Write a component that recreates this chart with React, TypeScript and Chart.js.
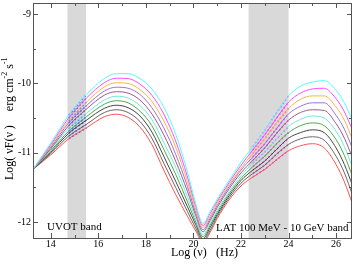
import React, { useEffect, useRef } from 'react';
import { Chart, registerables } from 'chart.js';
Chart.register(...registerables);

const logNu = [13.25, 14.0, 14.75, 15.5, 16.25, 16.75, 17.25, 17.75, 18.25, 18.75, 19.25, 19.75, 20.1, 20.4, 20.7, 21.0, 21.5, 22.0, 22.5, 23.0, 23.5, 24.0, 24.5, 25.0, 25.5, 26.0, 26.35, 26.7];

const curveCyan = [-11.24, -10.86, -10.46, -10.16, -9.93, -9.86, -9.86, -9.93, -10.08, -10.34, -10.73, -11.28, -11.74, -12.02, -11.85, -11.67, -11.40, -11.14, -10.91, -10.68, -10.42, -10.18, -10.04, -9.98, -9.96, -10.10, -10.28, -10.55];
const curveMagenta = [-11.24, -10.88, -10.50, -10.21, -9.99, -9.925, -9.93, -10.01, -10.17, -10.44, -10.83, -11.35, -11.78, -12.05, -11.88, -11.70, -11.43, -11.18, -10.96, -10.74, -10.50, -10.27, -10.14, -10.08, -10.07, -10.22, -10.41, -10.68];
const curveOrange = [-11.24, -10.90, -10.54, -10.27, -10.05, -9.99, -10.00, -10.09, -10.26, -10.54, -10.92, -11.42, -11.83, -12.08, -11.92, -11.73, -11.46, -11.22, -11.01, -10.80, -10.57, -10.36, -10.23, -10.18, -10.18, -10.34, -10.53, -10.82];
const curveViolet = [-11.24, -10.92, -10.57, -10.32, -10.11, -10.055, -10.07, -10.16, -10.35, -10.64, -11.02, -11.49, -11.87, -12.11, -11.95, -11.76, -11.49, -11.25, -11.06, -10.87, -10.65, -10.44, -10.33, -10.28, -10.28, -10.46, -10.66, -10.95];
const curveMaroon = [-11.24, -10.94, -10.61, -10.37, -10.17, -10.12, -10.14, -10.24, -10.44, -10.74, -11.12, -11.56, -11.91, -12.14, -11.98, -11.79, -11.52, -11.29, -11.11, -10.93, -10.72, -10.53, -10.42, -10.38, -10.39, -10.58, -10.79, -11.08];
const curveTurquoise = [-11.24, -10.95, -10.65, -10.43, -10.24, -10.185, -10.21, -10.32, -10.52, -10.85, -11.21, -11.64, -11.96, -12.18, -12.02, -11.83, -11.56, -11.33, -11.15, -10.99, -10.80, -10.62, -10.52, -10.47, -10.50, -10.69, -10.91, -11.22];
const curveGreen = [-11.24, -10.97, -10.69, -10.48, -10.30, -10.25, -10.28, -10.40, -10.61, -10.95, -11.31, -11.71, -12.00, -12.21, -12.05, -11.86, -11.59, -11.37, -11.20, -11.05, -10.87, -10.71, -10.61, -10.57, -10.61, -10.81, -11.04, -11.35];
const curveBlack = [-11.24, -10.99, -10.72, -10.53, -10.36, -10.315, -10.35, -10.47, -10.70, -11.05, -11.41, -11.78, -12.04, -12.24, -12.08, -11.89, -11.62, -11.40, -11.25, -11.12, -10.95, -10.79, -10.71, -10.67, -10.71, -10.93, -11.17, -11.48];
const curveGrey = [-11.24, -11.01, -10.76, -10.59, -10.42, -10.38, -10.42, -10.55, -10.79, -11.15, -11.50, -11.85, -12.09, -12.27, -12.12, -11.92, -11.65, -11.44, -11.30, -11.18, -11.02, -10.88, -10.80, -10.77, -10.82, -11.05, -11.29, -11.62];
const curveRed = [-11.24, -11.03, -10.80, -10.64, -10.48, -10.445, -10.49, -10.63, -10.88, -11.25, -11.60, -11.92, -12.13, -12.30, -12.15, -11.95, -11.68, -11.48, -11.35, -11.24, -11.10, -10.97, -10.90, -10.87, -10.93, -11.17, -11.42, -11.75];

const curves = [curveCyan, curveMagenta, curveOrange, curveViolet, curveMaroon, curveTurquoise, curveGreen, curveBlack, curveGrey, curveRed];
const curveColors = ['#4dffff', '#ff4dff', '#ffb340', '#a070dd', '#9a5a8a', '#70e8d8', '#4aaa4a', '#444444', '#666666', '#ff5050'];

const xMajorTicks = [14, 16, 18, 20, 22, 24, 26];
const xMinorTicks = [15, 17, 19, 21, 23, 25];
const yMajorTicks = [-12, -11, -10, -9];
const yMinorTicks = [-11.5, -10.5, -9.5];

const bandStart = [14.7, 22.32];
const bandEnd = [15.48, 24.0];
const bandLabels = ['UVOT band', 'LAT 100 MeV - 10 GeV band'];
const bandOverlayColors = ['#5060ff', '#ff30ff'];

const X_MIN = 13.25, X_MAX = 26.67, Y_MIN = -12.23, Y_MAX = -8.84;

const SERIF = '"Liberation Serif", "Times New Roman", serif';

const decor = {
  id: 'decor',
  beforeDatasetsDraw(chart: any) {
    const { ctx, chartArea: a, scales } = chart;
    const x = scales.x;
    ctx.save();
    ctx.fillStyle = '#d9d9d9';
    bandStart.forEach((s, i) => {
      const x0 = x.getPixelForValue(s);
      const x1 = x.getPixelForValue(bandEnd[i]);
      ctx.fillRect(x0, a.top, x1 - x0, a.bottom - a.top);
    });
    ctx.restore();
  },
  afterDatasetsDraw(chart: any) {
    const { ctx, chartArea: a, scales } = chart;
    const x = scales.x, y = scales.y;
    ctx.save();
    ctx.strokeStyle = '#555555';
    ctx.lineWidth = 1;
    ctx.strokeRect(Math.round(a.left) + 0.5, Math.round(a.top) + 0.5, Math.round(a.right - a.left) - 1, Math.round(a.bottom - a.top));
    const tick = (px: number, len: number, vertical: boolean) => {
      ctx.beginPath();
      const p = Math.round(px) + 0.5;
      if (vertical) {
        ctx.moveTo(p, a.bottom); ctx.lineTo(p, a.bottom - len);
        ctx.moveTo(p, a.top); ctx.lineTo(p, a.top + len);
      } else {
        ctx.moveTo(a.left, p); ctx.lineTo(a.left + len, p);
        ctx.moveTo(a.right, p); ctx.lineTo(a.right - len, p);
      }
      ctx.stroke();
    };
    xMajorTicks.forEach(v => tick(x.getPixelForValue(v), 5, true));
    xMinorTicks.forEach(v => tick(x.getPixelForValue(v), 3, true));
    yMajorTicks.forEach(v => tick(y.getPixelForValue(v), 5, false));
    yMinorTicks.forEach(v => tick(y.getPixelForValue(v), 3, false));

    ctx.fillStyle = '#000';
    ctx.font = '10px ' + SERIF;
    ctx.textAlign = 'center';
    ctx.textBaseline = 'middle';
    xMajorTicks.forEach(v => ctx.fillText(String(v), x.getPixelForValue(v), a.bottom + 6));
    ctx.textAlign = 'right';
    yMajorTicks.forEach(v => ctx.fillText(String(v), a.left - 2, y.getPixelForValue(v)));

    ctx.font = '11px ' + SERIF;
    ctx.textAlign = 'left';
    ctx.textBaseline = 'alphabetic';
    ctx.fillText(bandLabels[0], a.left + 14, a.bottom - 8.5);
    ctx.fillText(bandLabels[1], a.left + 183, a.bottom - 7.5);

    ctx.font = '12px ' + SERIF;
    ctx.textBaseline = 'middle';
    ctx.fillText('Log (ν)', a.left + 138, a.bottom + 15);
    ctx.fillText('(Hz)', a.left + 183, a.bottom + 15);

    ctx.translate(a.left - 23, a.top + 177);
    ctx.rotate(-Math.PI / 2);
    ctx.textAlign = 'left';
    ctx.textBaseline = 'middle';
    const main = '12px ' + SERIF, sup = '8px ' + SERIF;
    let cx = 0;
    const put = (t: string, f: string, dy: number) => {
      ctx.font = f;
      ctx.fillText(t, cx, dy);
      cx += ctx.measureText(t).width;
    };
    put('Log( νF(ν )', main, 0);
    cx += 14;
    put('erg cm', main, 0);
    put('-2', sup, -5);
    put(' s', main, 0);
    put('-1', sup, -5);
    ctx.restore();
  },
};

export default function App() {
  const ref = useRef<HTMLCanvasElement>(null);
  useEffect(() => {
    if (!ref.current) return;
    const lineSets = curves.map((c, i) => ({
      data: logNu.map((xv, j) => ({ x: xv, y: c[j] })),
      borderColor: curveColors[i],
      borderWidth: 1,
      pointRadius: 0,
      fill: false,
      cubicInterpolationMode: 'monotone' as const,
    }));
    const overlaySets: any[] = [];
    bandStart.forEach((s, b) => {
      curves.forEach(c => {
        const pts = logNu
          .map((xv, j) => ({ x: xv, y: c[j] }))
          .filter(p => p.x >= s - 0.06 && p.x <= bandEnd[b] + 0.06);
        overlaySets.push({
          data: pts,
          borderColor: bandOverlayColors[b],
          borderWidth: 1.4,
          borderDash: b === 0 ? [2, 2] : [1.5, 2.5],
          pointRadius: 0,
          fill: false,
          tension: 0,
        });
      });
    });
    const chart = new Chart(ref.current, {
      type: 'line',
      data: { datasets: [...lineSets, ...overlaySets] },
      options: {
        responsive: false,
        animation: false,
        devicePixelRatio: 1,
        layout: { padding: { left: 0, top: 3, right: 1, bottom: 0 } },
        plugins: { legend: { display: false }, tooltip: { enabled: false } },
        scales: {
          x: {
            type: 'linear', min: X_MIN, max: X_MAX,
            ticks: { display: false }, grid: { display: false }, border: { display: false },
            afterFit: (s: any) => { s.height = 35; },
          },
          y: {
            type: 'linear', min: Y_MIN, max: Y_MAX,
            ticks: { display: false }, grid: { display: false }, border: { display: false },
            afterFit: (s: any) => { s.width = 33; },
          },
        },
      },
      plugins: [decor],
    });
    return () => chart.destroy();
  }, []);
  return (
    <div style={{ position: 'fixed', left: 0, top: 0, width: 353, height: 273, background: '#fff' }}>
      <canvas ref={ref} width={353} height={273} />
    </div>
  );
}
